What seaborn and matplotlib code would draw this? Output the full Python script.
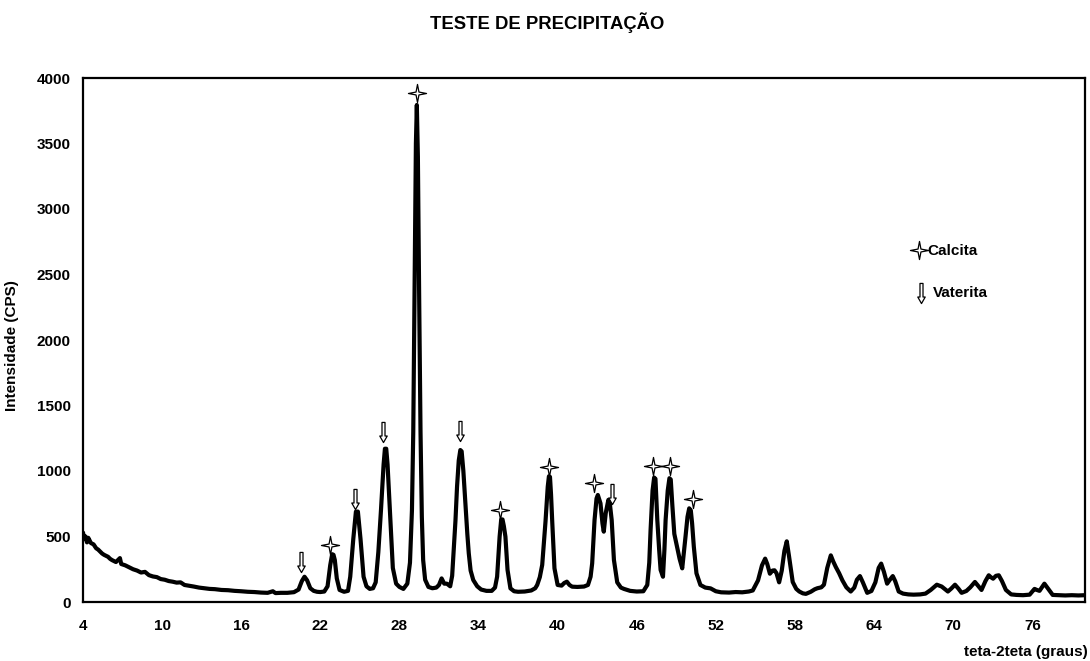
import numpy as np
import matplotlib
matplotlib.use("Agg")
import matplotlib.pyplot as plt
from matplotlib.path import Path
import seaborn as sns

# ---------------- data ----------------
two_theta = [
    4.0, 4.1, 4.2, 4.3, 4.4, 4.6, 4.8, 5.0, 5.15, 5.3, 5.45, 5.6, 5.9, 6.05, 6.2, 6.5, 6.8, 6.9, 7.2, 7.5, 7.8,
    8.1, 8.4, 8.7, 9.0, 9.3, 9.6, 9.9, 10.2, 10.5, 10.8, 11.1, 11.4, 11.7, 12.0,
    12.4, 12.8, 13.2, 13.6, 14.0, 14.5, 15.0, 15.5, 16.0, 16.5, 17.0, 17.5, 18.0,
    18.4, 18.6, 19.0, 19.5, 20.0, 20.35, 20.6, 20.8, 21.0, 21.24, 21.5, 21.75,
    22.0, 22.3, 22.55, 22.75, 22.9, 23.0, 23.1, 23.25, 23.46, 23.8, 24.1, 24.27, 24.5,
    24.7, 24.85, 25.05, 25.28, 25.5, 25.75, 26.0, 26.2, 26.4, 26.6, 26.8, 26.9, 27.0, 27.1,
    27.3, 27.5, 27.75, 28.0, 28.3, 28.6, 28.8, 28.95, 29.05, 29.15, 29.25, 29.32,
    29.4, 29.5, 29.6, 29.7, 29.8, 29.95, 30.2, 30.5, 30.8, 31.0, 31.2, 31.4, 31.6,
    31.85, 32.0, 32.1, 32.25, 32.37, 32.5, 32.62, 32.72, 32.85, 33.0, 33.15, 33.26, 33.4,
    33.6, 33.9, 34.2, 34.6, 35.0, 35.25, 35.41, 35.6, 35.72, 35.82, 35.92, 36.04, 36.2,
    36.42, 36.7, 37.0, 37.5, 38.0, 38.3, 38.45, 38.65, 38.83, 39.08, 39.25, 39.34, 39.42,
    39.5, 39.59, 39.76, 40.0, 40.3, 40.5, 40.7, 40.9, 41.1, 41.5, 42.0, 42.3,
    42.5, 42.62, 42.8, 42.95, 43.05, 43.25, 43.4, 43.5, 43.65, 43.85, 43.95, 44.1, 44.27,
    44.52, 44.8, 45.03, 45.5, 46.0, 46.5, 46.8, 46.95, 47.05, 47.2, 47.32, 47.42,
    47.56, 47.7, 47.81, 47.99, 48.1, 48.19, 48.35, 48.48, 48.58, 48.7, 48.85,
    49.08, 49.25, 49.45, 49.6, 49.7, 49.85, 49.98, 50.1, 50.2, 50.33, 50.53, 50.83,
    51.2, 51.6, 52.0, 52.4, 53.0, 53.5, 54.0, 54.5, 54.8, 55.2, 55.5, 55.74, 55.9,
    56.1, 56.3, 56.45, 56.6, 56.8, 57.0, 57.2, 57.38, 57.55, 57.83, 58.1, 58.33,
    58.6, 58.83, 59.2, 59.5, 59.7, 60.0, 60.2, 60.45, 60.72, 60.9, 61.1, 61.35,
    61.6, 61.9, 62.23, 62.5, 62.7, 62.93, 63.15, 63.48, 63.8, 64.1, 64.35, 64.54,
    64.75, 64.99, 65.2, 65.42, 65.6, 65.87, 66.2, 66.6, 67.0, 67.5, 67.9, 68.3,
    68.76, 69.13, 69.6, 69.85, 70.14, 70.4, 70.64, 71.0, 71.3, 71.65, 71.9, 72.15,
    72.45, 72.7, 72.85, 73.03, 73.25, 73.46, 73.7, 74.0, 74.4, 74.8, 75.3, 75.8,
    76.17, 76.35, 76.55, 76.92, 77.2, 77.55, 78.0, 78.5, 79.0, 79.5, 80.0,
]
intensity_cps = [
    530, 480, 500, 455, 490, 450, 440, 410, 400, 385, 370, 360, 345, 330, 320, 305, 335, 290, 280, 265, 250,
    240, 225, 230, 205, 195, 190, 175, 170, 160, 155, 148, 150, 130, 125,
    118, 110, 105, 100, 98, 92, 90, 85, 82, 78, 76, 72, 70,
    82, 68, 70, 70, 75, 95, 160, 193, 165, 105, 85, 78,
    76, 80, 120, 280, 365, 360, 320, 180, 92, 78, 85, 193, 480,
    690, 690, 480, 193, 120, 100, 105, 150, 380, 700, 1050, 1170, 1170, 1050,
    650, 260, 140, 115, 100, 140, 300, 700, 1300, 2400, 3500, 3794,
    3400, 2300, 1300, 650, 320, 170, 115, 105, 110, 130, 180, 140, 140,
    120, 200, 372, 620, 880, 1080, 1160, 1150, 1000, 755, 520, 372, 240,
    168, 120, 95, 85, 85, 110, 193, 499, 630, 630, 580, 499, 245,
    104, 82, 78, 80, 88, 105, 130, 190, 283, 614, 880, 960, 955,
    820, 614, 257, 130, 125, 145, 155, 130, 117, 115, 118, 130,
    193, 295, 626, 790, 817, 753, 600, 537, 680, 780, 760, 626, 321,
    150, 110, 100, 85, 80, 82, 130, 300, 550, 850, 950, 940,
    626, 400, 245, 193, 400, 626, 850, 945, 935, 740, 520,
    410, 330, 257, 400, 499, 650, 715, 700, 600, 422, 219, 130,
    110, 104, 82, 74, 72, 76, 74, 80, 88, 165, 280, 331, 290,
    216, 240, 242, 220, 150, 240, 390, 463, 350, 153, 100, 80,
    66, 62, 78, 97, 105, 112, 132, 260, 356, 310, 267, 220,
    165, 112, 80, 110, 170, 198, 150, 70, 84, 150, 260, 293,
    230, 140, 170, 198, 160, 80, 64, 58, 56, 58, 64, 92,
    132, 118, 80, 102, 132, 102, 70, 84, 112, 153, 122, 92,
    160, 204, 190, 178, 200, 204, 160, 92, 58, 54, 52, 56,
    100, 92, 85, 140, 102, 54, 52, 50, 52, 50, 52,
]

calcita_x = [22.75, 29.30, 35.66, 39.38, 42.75, 47.25, 48.52, 50.26]
calcita_y = [435, 3885, 702, 1033, 911, 1038, 1038, 786]
vaterita_x = [20.53, 24.60, 26.75, 32.57, 44.14]
vaterita_y = [308, 789, 1298, 1305, 828]

x_ticks = [4, 10, 16, 22, 28, 34, 40, 46, 52, 58, 64, 70, 76]
y_ticks = [0, 500, 1000, 1500, 2000, 2500, 3000, 3500, 4000]

title = "TESTE DE PRECIPITAÇÃO"
xlabel = "teta-2teta (graus)"
ylabel = "Intensidade (CPS)"
legend_labels = ["Calcita", "Vaterita"]

# ---------------- style ----------------
sns.set_style("white")
plt.rcParams["font.family"] = ["Liberation Sans", "DejaVu Sans"]
plt.rcParams["font.weight"] = "bold"
plt.rcParams["text.color"] = "black"
plt.rcParams["axes.labelcolor"] = "black"
plt.rcParams["xtick.color"] = "black"
plt.rcParams["ytick.color"] = "black"

# marker shapes
star_path = Path([(0, 1), (0.16, 0.16), (1, 0), (0.16, -0.16), (0, -1),
                  (-0.16, -0.16), (-1, 0), (-0.16, 0.16), (0, 1)],
                 [Path.MOVETO] + [Path.LINETO] * 7 + [Path.CLOSEPOLY])
arrow_path = Path([(-0.15, 1), (0.15, 1), (0.15, -0.35), (0.37, -0.35), (0, -1),
                   (-0.37, -0.35), (-0.15, -0.35), (-0.15, 1)],
                  [Path.MOVETO] + [Path.LINETO] * 6 + [Path.CLOSEPOLY])

fig = plt.figure(figsize=(10.9, 6.61), dpi=100)
ax = fig.add_axes([83 / 1090, 59 / 661, 1002 / 1090, 524 / 661])

sns.lineplot(x=two_theta, y=intensity_cps, color="black", linewidth=3.0,
             estimator=None, sort=False, ax=ax, zorder=3)

sns.scatterplot(x=calcita_x, y=calcita_y, marker=star_path, s=170,
                color="white", edgecolor="black", linewidth=0.9, ax=ax,
                zorder=5, clip_on=False)
sns.scatterplot(x=vaterita_x, y=vaterita_y, marker=arrow_path, s=210,
                color="white", edgecolor="black", linewidth=0.9, ax=ax,
                zorder=5, clip_on=False)

ax.set_xlim(4, 80)
ax.set_ylim(0, 4000)
ax.set_xticks(x_ticks)
ax.set_yticks(y_ticks)
ax.set_xticklabels([str(t) for t in x_ticks], fontsize=11, fontweight="bold", color="black")
ax.set_yticklabels([str(t) for t in y_ticks], fontsize=11, fontweight="bold", color="black")
ax.tick_params(axis="x", direction="out", length=4, width=1.5, pad=8, colors="black")
ax.tick_params(axis="y", direction="out", length=4, width=1.5, pad=5, colors="black")
for sp in ax.spines.values():
    sp.set_visible(True)
    sp.set_color("black")
    sp.set_linewidth(1.6)

ax.set_ylabel(ylabel, fontsize=11, fontweight="bold", color="black")
ax.yaxis.set_label_coords(-0.064, 0.49)
ax.set_xlabel(xlabel, fontsize=11, fontweight="bold", color="black")
ax.xaxis.set_label_coords(1.003, -0.095)
ax.xaxis.label.set_ha("right")
ax.xaxis.label.set_va("center")

fig.text(547 / 1090, 1 - 23 / 661, title, ha="center", va="center",
         fontsize=13.3, fontweight="bold", color="black")

# legend (drawn in axes coordinates)
ax.scatter([0.834], [0.672], marker=star_path, s=170, facecolor="white",
           edgecolor="black", linewidth=0.9, transform=ax.transAxes, zorder=6)
ax.text(0.843, 0.670, legend_labels[0], transform=ax.transAxes, ha="left",
        va="center", fontsize=11, fontweight="bold", color="black")
ax.scatter([0.836], [0.589], marker=arrow_path, s=210, facecolor="white",
           edgecolor="black", linewidth=0.9, transform=ax.transAxes, zorder=6)
ax.text(0.848, 0.589, legend_labels[1], transform=ax.transAxes, ha="left",
        va="center", fontsize=11, fontweight="bold", color="black")

fig.savefig("out.png", dpi=100)
